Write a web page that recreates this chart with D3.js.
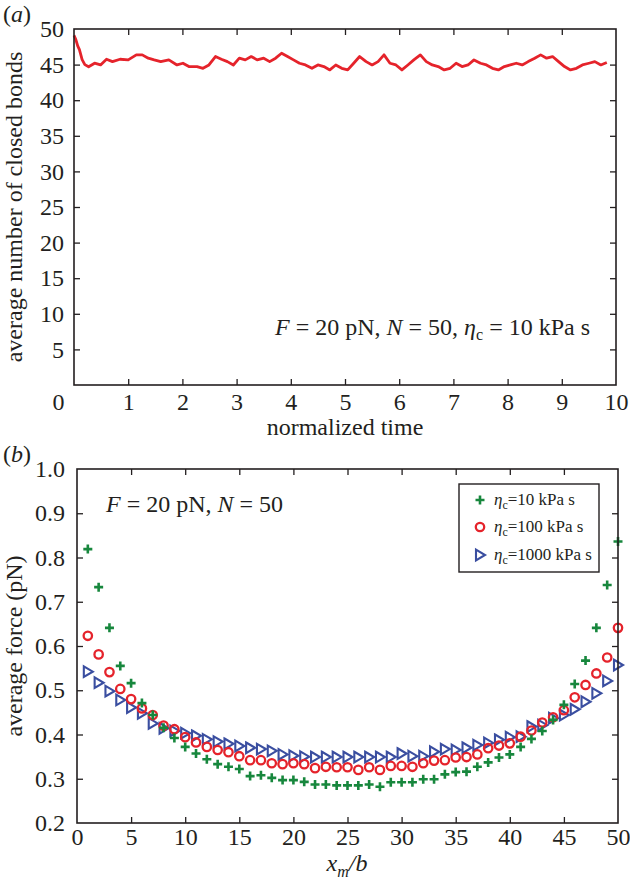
<!DOCTYPE html>
<html>
<head>
<meta charset="utf-8">
<script src="https://cdn.jsdelivr.net/npm/d3@7"></script>
<style>
  html, body { margin: 0; padding: 0; background: #fff; }
  svg { display: block; }
  text { font-family: "Liberation Serif", "Times New Roman", serif; fill: #231f20; }
</style>
</head>
<body>
<svg id="chart" width="630" height="886"></svg>
<script>
// ---------- Panel (a) data ----------
const timeA = [0.00, 0.03, 0.07, 0.10, 0.15, 0.20, 0.27, 0.38, 0.49, 0.60, 0.71, 0.85, 1.00, 1.15, 1.26, 1.37, 1.48, 1.60, 1.75, 1.90,
  2.01, 2.12, 2.27, 2.38, 2.49, 2.61, 2.72, 2.83, 2.94, 3.05, 3.16, 3.27, 3.38, 3.50, 3.61, 3.72, 3.83, 3.94, 4.05, 4.16,
  4.27, 4.39, 4.50, 4.61, 4.72, 4.83, 4.94, 5.05, 5.16, 5.27, 5.39, 5.50, 5.61, 5.72, 5.83, 5.94, 6.05, 6.16, 6.27, 6.39,
  6.50, 6.61, 6.72, 6.83, 6.94, 7.05, 7.16, 7.27, 7.38, 7.50, 7.61, 7.72, 7.83, 7.94, 8.05, 8.16, 8.27, 8.38, 8.50, 8.61,
  8.72, 8.83, 8.94, 9.05, 9.16, 9.27, 9.38, 9.50, 9.61, 9.72, 9.83];
const closedBonds = [49.1, 48.6, 47.6, 47.1, 45.7, 45.0, 44.7, 45.2, 44.95, 45.75, 45.42, 45.75, 45.66, 46.37, 46.37, 45.90, 45.66, 45.42, 45.66, 44.95,
  45.19, 44.72, 44.72, 44.48, 44.95, 46.13, 45.75, 45.42, 44.95, 45.90, 45.66, 46.13, 45.66, 45.90, 45.42, 45.90, 46.6, 46.13, 45.66, 45.19,
  44.95, 44.48, 44.95, 44.72, 44.25, 44.95, 44.48, 44.25, 45.19, 46.13, 45.42, 44.95, 45.42, 46.37, 45.19, 44.95, 44.25, 44.95, 45.66, 46.37,
  45.42, 44.95, 44.72, 44.25, 44.48, 45.19, 44.72, 44.95, 45.66, 45.19, 44.95, 44.48, 44.25, 44.72, 44.95, 45.19, 44.95, 45.42, 45.90, 46.37,
  45.90, 46.13, 45.42, 44.72, 44.25, 44.48, 44.95, 45.19, 45.42, 44.95, 45.30];
const xTicksA = [0, 1, 2, 3, 4, 5, 6, 7, 8, 9, 10];
const yTicksA = [5, 10, 15, 20, 25, 30, 35, 40, 45, 50];

// ---------- Panel (b) data ----------
const xmOverB = [1, 2, 3, 4, 5, 6, 7, 8, 9, 10, 11, 12, 13, 14, 15, 16, 17, 18, 19, 20, 21, 22, 23, 24, 25,
  26, 27, 28, 29, 30, 31, 32, 33, 34, 35, 36, 37, 38, 39, 40, 41, 42, 43, 44, 45, 46, 47, 48, 49, 50];
const force10 = [0.819, 0.733, 0.641, 0.555, 0.516, 0.471, 0.444, 0.415, 0.392, 0.372, 0.357, 0.344, 0.333, 0.327, 0.322, 0.306, 0.308, 0.302, 0.297, 0.297, 0.293, 0.287, 0.287, 0.285, 0.285,
  0.285, 0.287, 0.282, 0.292, 0.292, 0.292, 0.299, 0.299, 0.310, 0.315, 0.316, 0.327, 0.337, 0.348, 0.355, 0.372, 0.390, 0.408, 0.433, 0.467, 0.514, 0.567, 0.641, 0.738, 0.836];
const force100 = [0.623, 0.581, 0.541, 0.503, 0.480, 0.459, 0.444, 0.420, 0.412, 0.394, 0.382, 0.372, 0.365, 0.360, 0.351, 0.342, 0.342, 0.335, 0.333, 0.335, 0.333, 0.324, 0.327, 0.326, 0.326,
  0.320, 0.326, 0.320, 0.329, 0.329, 0.327, 0.335, 0.341, 0.342, 0.348, 0.349, 0.355, 0.369, 0.375, 0.380, 0.395, 0.409, 0.427, 0.439, 0.455, 0.484, 0.512, 0.538, 0.574, 0.641];
const force1000 = [0.542, 0.517, 0.498, 0.478, 0.461, 0.448, 0.425, 0.414, 0.408, 0.403, 0.397, 0.389, 0.384, 0.379, 0.374, 0.370, 0.367, 0.363, 0.355, 0.352, 0.350, 0.349, 0.349, 0.349, 0.349,
  0.349, 0.349, 0.349, 0.349, 0.357, 0.351, 0.351, 0.361, 0.367, 0.365, 0.370, 0.376, 0.381, 0.388, 0.394, 0.395, 0.418, 0.421, 0.437, 0.444, 0.457, 0.474, 0.493, 0.521, 0.557];
const xTicksB = [0, 5, 10, 15, 20, 25, 30, 35, 40, 45, 50];
const yTicksB = [0.2, 0.3, 0.4, 0.5, 0.6, 0.7, 0.8, 0.9, 1.0];
const seriesNames = ["=10 kPa s", "=100 kPa s", "=1000 kPa s"];

// ---------- styles ----------
const INK = "#231f20";
const RED = "#e5232b";
const GREEN = "#17873d";
const BLUE = "#3a4ea0";

const svg = d3.select("#chart");

function frame(g, x, y, xt, yt, padX, padY, fmtY) {
  const [x0, x1] = x.range();
  const [y0, y1] = y.range();
  const b = g.append("g").attr("transform", `translate(0,${y0})`)
    .call(d3.axisBottom(x).tickValues(xt).tickSize(-6).tickPadding(padX).tickFormat(d3.format("d")));
  const t = g.append("g").attr("transform", `translate(0,${y1})`)
    .call(d3.axisTop(x).tickValues(xt.filter(v => v !== x.domain()[0] && v !== x.domain()[1])).tickSize(-6).tickFormat(""));
  const l = g.append("g").attr("transform", `translate(${x0},0)`)
    .call(d3.axisLeft(y).tickValues(yt).tickSize(-6).tickPadding(padY).tickFormat(fmtY));
  const r = g.append("g").attr("transform", `translate(${x1},0)`)
    .call(d3.axisRight(y).tickValues(yt.filter(v => v !== y.domain()[0] && v !== y.domain()[1])).tickSize(-6).tickFormat(""));
  [b, t, l, r].forEach(a => {
    a.select(".domain").remove();
    a.selectAll(".tick line").attr("stroke", INK).attr("stroke-width", 1.3);
    a.selectAll(".tick text").attr("font-family", "Liberation Serif, serif").attr("font-size", 24).attr("fill", INK);
  });
  b.selectAll(".tick").filter(d => d === x.domain()[0] || d === x.domain()[1]).select("line").remove();
  l.selectAll(".tick").filter(d => d === y.domain()[0] || d === y.domain()[1]).select("line").remove();
  g.append("rect").attr("x", x0).attr("y", y1).attr("width", x1 - x0).attr("height", y0 - y1)
    .attr("fill", "none").attr("stroke", INK).attr("stroke-width", 1.6);
  return { b, l };
}

// ================= Panel (a) =================
const gA = svg.append("g");
const xA = d3.scaleLinear().domain([0, 10]).range([74, 616]);
const yA = d3.scaleLinear().domain([0, 50]).range([385, 29]);

gA.append("path")
  .datum(timeA.map((t, i) => [t, closedBonds[i]]))
  .attr("fill", "none").attr("stroke", RED).attr("stroke-width", 2.8).attr("stroke-linejoin", "round")
  .attr("d", d3.line().x(d => xA(d[0])).y(d => yA(d[1])));

const axA = frame(gA, xA, yA, xTicksA, yTicksA, 8, 10, d3.format("d"));
axA.b.selectAll(".tick").filter(d => d === 0).select("text").attr("dx", -16);

gA.append("text").attr("x", 345).attr("y", 435).attr("text-anchor", "middle").attr("font-size", 24)
  .text("normalized time");
gA.append("text").attr("transform", "translate(22,207) rotate(-90)").attr("text-anchor", "middle").attr("font-size", 24)
  .text("average number of closed bonds");

const annA = gA.append("text").attr("x", 275).attr("y", 335).attr("font-size", 24);
annA.append("tspan").attr("font-style", "italic").text("F");
annA.append("tspan").text(" = 20 pN, ");
annA.append("tspan").attr("font-style", "italic").text("N");
annA.append("tspan").text(" = 50, ");
annA.append("tspan").attr("font-style", "italic").text("η");
annA.append("tspan").attr("font-size", 16).attr("dy", 5).text("c");
annA.append("tspan").attr("dy", -5).text(" = 10 kPa s");

const labA = svg.append("text").attr("x", 3).attr("y", 22).attr("font-size", 24);
labA.append("tspan").text("(");
labA.append("tspan").attr("font-style", "italic").text("a");
labA.append("tspan").text(")");

// ================= Panel (b) =================
const gB = svg.append("g");
const xB = d3.scaleLinear().domain([0, 50]).range([77, 618]);
const yB = d3.scaleLinear().domain([0.2, 1.0]).range([823, 469]);

const plusPath = "M-4.5,0H4.5M0,-4.5V4.5";
const triPath = "M-4,-5.3L5,0L-4,5.3Z";

function drawMarker(sel, kind) {
  if (kind === 0) {
    sel.append("path").attr("d", plusPath).attr("stroke", GREEN).attr("stroke-width", 2.6).attr("fill", "none");
  } else if (kind === 1) {
    sel.append("circle").attr("r", 4.2).attr("stroke", RED).attr("stroke-width", 2.3).attr("fill", "none");
  } else {
    sel.append("path").attr("d", triPath).attr("stroke", BLUE).attr("stroke-width", 2.1).attr("fill", "none")
      .attr("stroke-linejoin", "miter");
  }
}

const allSeries = [force10, force100, force1000];
[2, 1, 0].forEach(k => {
  const pts = xmOverB.map((x, i) => [x, allSeries[k][i]]);
  gB.append("g").selectAll("g").data(pts).join("g")
    .attr("transform", d => `translate(${xB(d[0])},${yB(d[1])})`)
    .each(function () { drawMarker(d3.select(this), k); });
});

frame(gB, xB, yB, xTicksB, yTicksB, 5, 12, d3.format(".1f"));

gB.append("text").attr("transform", "translate(22,646) rotate(-90)").attr("text-anchor", "middle").attr("font-size", 24)
  .text("average force (pN)");

const xlabB = gB.append("text").attr("x", 347).attr("y", 871).attr("text-anchor", "middle").attr("font-size", 24)
  .attr("font-style", "italic");
xlabB.append("tspan").text("x");
xlabB.append("tspan").attr("font-size", 16).attr("dy", 6).text("m");
xlabB.append("tspan").attr("dy", -6).text("/b");

const annB = gB.append("text").attr("x", 106).attr("y", 512).attr("font-size", 24);
annB.append("tspan").attr("font-style", "italic").text("F");
annB.append("tspan").text(" = 20 pN, ");
annB.append("tspan").attr("font-style", "italic").text("N");
annB.append("tspan").text(" = 50");

const labB = svg.append("text").attr("x", 3).attr("y", 462).attr("font-size", 24);
labB.append("tspan").text("(");
labB.append("tspan").attr("font-style", "italic").text("b");
labB.append("tspan").text(")");

// legend
const leg = gB.append("g");
leg.append("rect").attr("x", 459).attr("y", 484).attr("width", 140).attr("height", 88)
  .attr("fill", "#fff").attr("stroke", INK).attr("stroke-width", 1.4);
const rowY = [500, 527, 555];
seriesNames.forEach((name, k) => {
  const m = leg.append("g").attr("transform", `translate(480,${rowY[k]})`);
  drawMarker(m, k);
  const t = leg.append("text").attr("x", 494).attr("y", rowY[k] + 5).attr("font-size", 17);
  t.append("tspan").attr("font-style", "italic").text("η");
  t.append("tspan").attr("font-size", 12).attr("dy", 4).text("c");
  t.append("tspan").attr("dy", -4).text(name);
});
</script>
</body>
</html>
